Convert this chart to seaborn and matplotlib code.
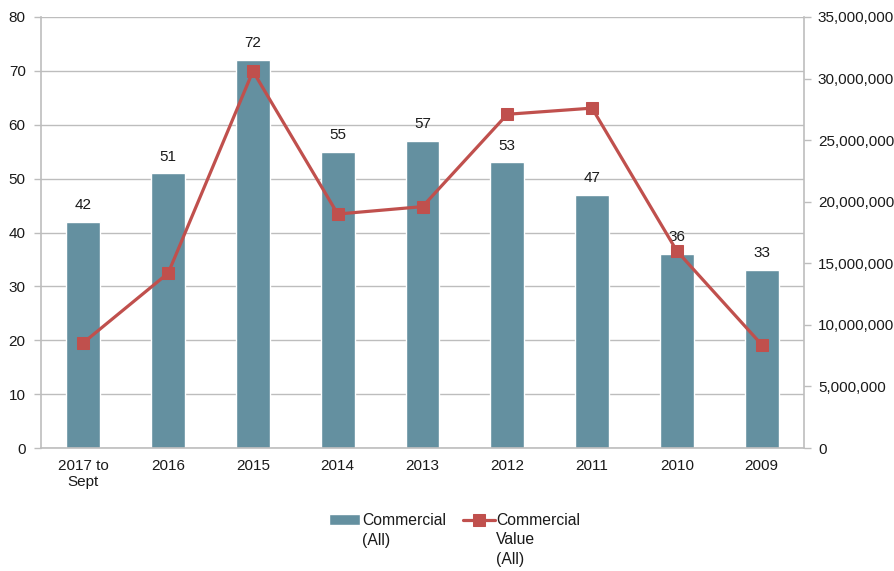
import numpy as np
import pandas as pd
import matplotlib
matplotlib.use("Agg")
import matplotlib.pyplot as plt
from matplotlib.ticker import FuncFormatter, FixedLocator
import seaborn as sns

# Commercial deals per year and their total value
years = ["2017 to\nSept", "2016", "2015", "2014", "2013", "2012", "2011", "2010", "2009"]
deal_counts = [42, 51, 72, 55, 57, 53, 47, 36, 33]
deal_values = [8.55e6, 14.2e6, 30.6e6, 19.0e6, 19.6e6, 27.1e6, 27.6e6, 16.0e6, 8.4e6]
legend_lines = [["Commercial", "(All)"], ["Commercial", "Value", "(All)"]]

bar_color = "#6490A0"
line_color = "#C0504D"
grid_color = "#BDBDBD"
text_color = "#1A1A1A"
fs = 11

sns.set_theme(style="white")
plt.rcParams["font.family"] = ["Liberation Sans", "DejaVu Sans"]
plt.rcParams["font.size"] = fs

df = pd.DataFrame({"year": years, "count": deal_counts, "value": deal_values,
                   "pos": np.arange(len(years))})

W, H = 895, 571
fig = plt.figure(figsize=(W / 100, H / 100), dpi=100)
ax = fig.add_axes([41 / W, 1 - 448 / H, (804 - 41) / W, (448 - 17) / H])

sns.barplot(data=df, x="year", y="count", color=bar_color, width=0.4,
            saturation=1, ax=ax, zorder=2, label=legend_lines[0][0])
ax.bar_label(ax.containers[0], padding=7, fontsize=fs, color=text_color)

ax.set_ylim(0, 80)
ax.set_yticks(np.arange(0, 81, 10))
ax.set_xlim(-0.5, len(years) - 0.5)
ax.yaxis.grid(True, color=grid_color, linewidth=1)
ax.set_axisbelow(True)
ax.set_xlabel("")
ax.set_ylabel("")

# category boundary ticks on the x axis
ax.xaxis.set_minor_locator(FixedLocator(np.arange(-0.5, len(years), 1.0)))
ax.tick_params(axis="x", which="major", length=0, pad=8, labelsize=fs, colors=text_color)
ax.tick_params(axis="x", which="minor", length=5, color=grid_color, width=1, direction="out")
ax.tick_params(axis="y", length=5, color=grid_color, width=1, direction="out",
               labelsize=fs, labelcolor=text_color, pad=6)
for lbl in ax.get_xticklabels():
    lbl.set_color(text_color)

for side in ["top", "right"]:
    ax.spines[side].set_visible(False)
for side in ["left", "bottom"]:
    ax.spines[side].set_color(grid_color)
    ax.spines[side].set_linewidth(1.2)

ax2 = ax.twinx()
sns.lineplot(data=df, x="pos", y="value", color=line_color, linewidth=2.3,
             marker="s", markersize=8, markeredgecolor=line_color,
             ax=ax2, zorder=3, label=legend_lines[1][0])
ax2.set_ylim(0, 35e6)
ax2.set_yticks(np.arange(0, 35e6 + 1, 5e6))
ax2.yaxis.set_major_formatter(FuncFormatter(lambda v, p: f"{int(v):,}"))
ax2.tick_params(axis="y", length=5, color=grid_color, width=1, direction="out",
                labelsize=fs, labelcolor=text_color, pad=5)
ax2.set_ylabel("")
ax2.set_xlabel("")
for side in ["top", "left", "bottom"]:
    ax2.spines[side].set_visible(False)
ax2.spines["right"].set_color(grid_color)
ax2.spines["right"].set_linewidth(1.2)
ax2.set_xlim(-0.5, len(years) - 0.5)

h1, l1 = ax.get_legend_handles_labels()
h2, l2 = ax2.get_legend_handles_labels()
if ax.get_legend():
    ax.get_legend().remove()
if ax2.get_legend():
    ax2.get_legend().remove()
leg_fs = 11.3
leg = fig.legend(h1 + h2, l1 + l2, loc="upper center",
                 bbox_to_anchor=(0.5 + 7 / W, 1 - 513 / H),
                 ncol=2, frameon=False, fontsize=leg_fs, handlelength=2.0,
                 handletextpad=0.12, columnspacing=1.1, borderaxespad=0,
                 borderpad=0, labelcolor=text_color)

# continuation lines of the wrapped legend labels
fig.canvas.draw()
renderer = fig.canvas.get_renderer()
line_step = 19.5
for txt, lines in zip(leg.get_texts(), legend_lines):
    bb = txt.get_window_extent(renderer)
    for i, extra in enumerate(lines[1:], start=1):
        fig.text(bb.x0 / W, (bb.y0 - i * line_step) / H, extra, ha="left", va="bottom",
                 fontsize=leg_fs, color=text_color)

fig.savefig("out.png", dpi=100)
